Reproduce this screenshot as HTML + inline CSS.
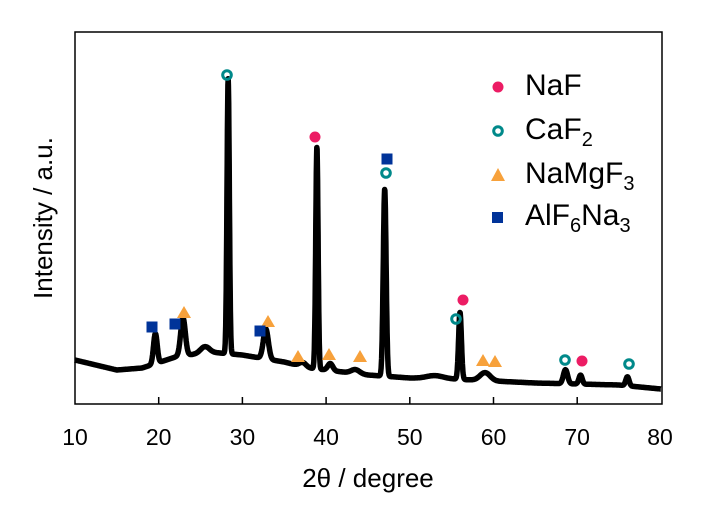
<!DOCTYPE html>
<html><head><style>body{margin:0;background:#fff}svg{display:block;font-family:"Liberation Sans",sans-serif}</style></head>
<body>
<svg id="s" width="709" height="531" xmlns="http://www.w3.org/2000/svg">
<rect x="75" y="32" width="587" height="372" fill="none" stroke="#000" stroke-width="1.5"/>
<g stroke="#000" stroke-width="1.5">
<line x1="158.7" y1="397" x2="158.7" y2="404"/><line x1="242.4" y1="397" x2="242.4" y2="404"/><line x1="326.1" y1="397" x2="326.1" y2="404"/><line x1="409.8" y1="397" x2="409.8" y2="404"/><line x1="493.5" y1="397" x2="493.5" y2="404"/><line x1="577.2" y1="397" x2="577.2" y2="404"/>
</g>
<g font-size="23" text-anchor="middle" fill="#000">
<text x="75" y="445">10</text><text x="158.7" y="445">20</text><text x="242.4" y="445">30</text><text x="326.1" y="445">40</text><text x="409.8" y="445">50</text><text x="493.5" y="445">60</text><text x="577.2" y="445">70</text><text x="660" y="445">80</text>
</g>
<text x="368" y="487" font-size="26" text-anchor="middle">2θ / degree</text>
<text transform="translate(52,218) rotate(-90)" font-size="26" text-anchor="middle">Intensity / a.u.</text>
<path id="c" fill="none" stroke="#000" stroke-width="5.5" stroke-linejoin="round"/>
<g id="m"></g>
<g font-size="30">
<circle cx="498" cy="87" r="5.5" fill="#ec1c64"/><text x="525" y="95">NaF</text>
<circle cx="498" cy="131" r="4.3" fill="none" stroke="#00898a" stroke-width="3"/><text x="525" y="139">CaF<tspan font-size="20" dy="7">2</tspan></text>
<polygon points="498,168 505,181 491,181" fill="#f7a13b"/><text x="525" y="183">NaMgF<tspan font-size="20" dy="7">3</tspan></text>
<rect x="492" y="212" width="11" height="11" fill="#003399"/><text x="525" y="225">AlF<tspan font-size="20" dy="7">6</tspan><tspan dy="-7">Na</tspan><tspan font-size="20" dy="7">3</tspan></text>
</g>
</svg>
<script>
var X=v=>75+(v-10)*8.37;
var B=[[10,360],[15,370],[18,368],[22,357],[26,352],[30,355],[35,362],[38,368],[42,372],[45,375],[50,378],[55,379],[60,381],[65,383],[70,384],[75,385],[80,389]];
function base(v){for(var i=0;i<B.length-1;i++){if(v<=B[i+1][0]){var t=(v-B[i][0])/(B[i+1][0]-B[i][0]);return B[i][1]+t*(B[i+1][1]-B[i][1]);}}return 389;}
var P=[[19.6,30,.22],[22.9,38,.28],[25.5,6,.5],[28.3,275,.14],[32.8,30,.3],[37.2,4,.4],[38.9,222,.14],[40.5,7,.3],[43.5,4,.5],[47.0,187,.17],[53,3,1],[56.0,67,.17],[59,8,.6],[68.6,14,.25],[70.4,9,.2],[76,9,.2]];
var d="";for(var v=10;v<=80.001;v+=0.03){var y=base(v);P.forEach(p=>{y-=p[1]*Math.exp(-Math.pow((v-p[0])/p[2],2)/2)});d+=(d?"L":"M")+X(v).toFixed(1)+","+y.toFixed(1);}
document.getElementById("c").setAttribute("d",d);
var m="";
[[315,137],[463,300],[582,361]].forEach(p=>m+=`<circle cx="${p[0]}" cy="${p[1]}" r="5.5" fill="#ec1c64"/>`);
[[227,75],[386,173],[456,319],[565,360],[629,364]].forEach(p=>m+=`<circle cx="${p[0]}" cy="${p[1]}" r="4.3" fill="none" stroke="#00898a" stroke-width="3"/>`);
[[184,312],[268,321],[298,356],[329,354],[360,356],[483,360],[495,361]].forEach(p=>m+=`<polygon points="${p[0]},${p[1]-6} ${p[0]+7},${p[1]+6} ${p[0]-7},${p[1]+6}" fill="#f7a13b"/>`);
[[152,327],[175,324],[260,331],[387,159]].forEach(p=>m+=`<rect x="${p[0]-5.5}" y="${p[1]-5.5}" width="11" height="11" fill="#003399"/>`);
document.getElementById("m").innerHTML=m;
</script>
</body></html>
